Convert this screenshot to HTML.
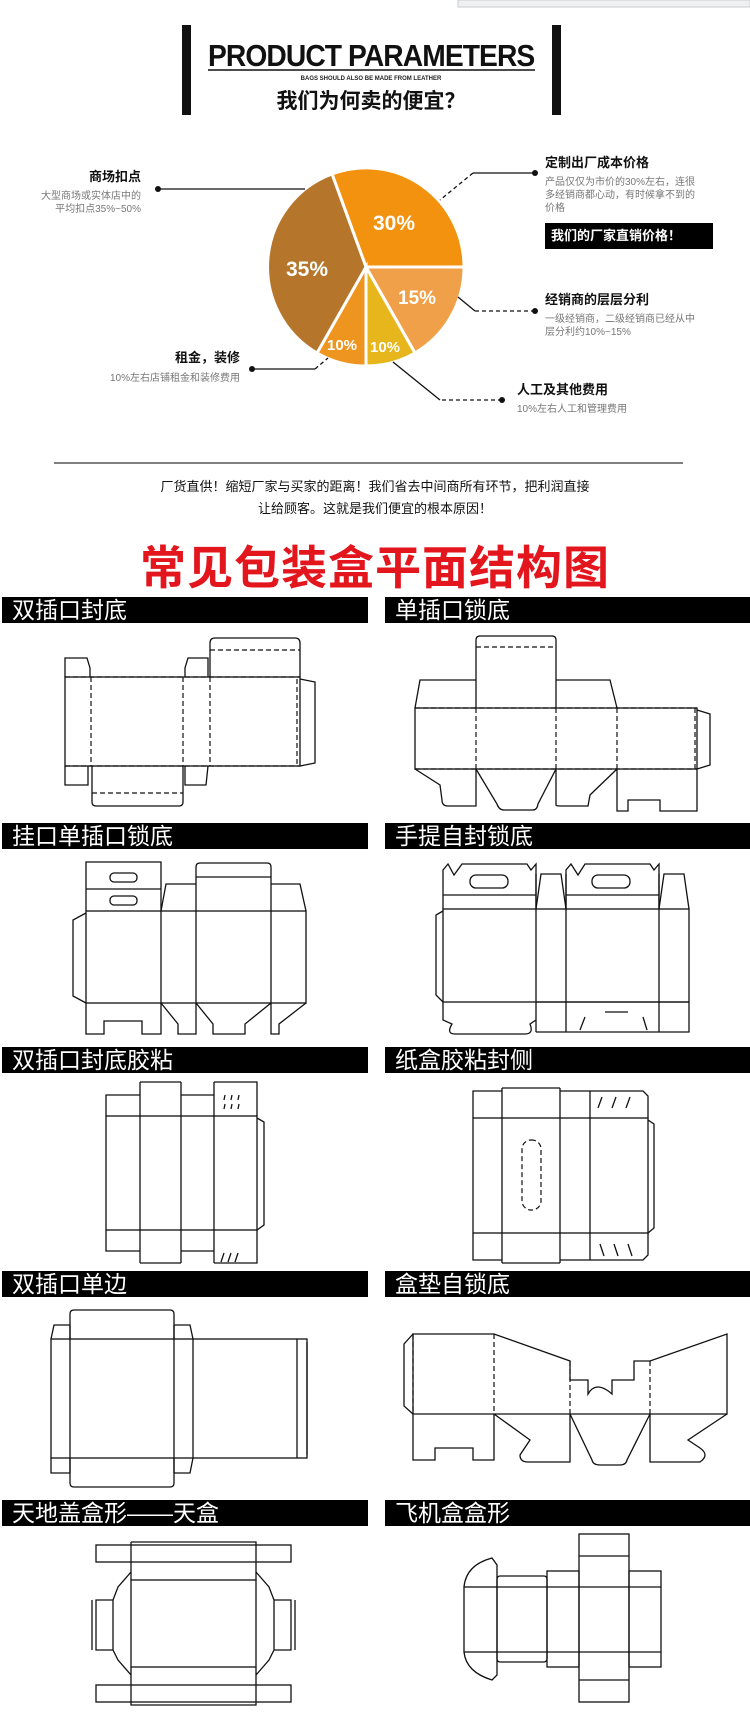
<!DOCTYPE html>
<html><head><meta charset="utf-8"><style>
*{margin:0;padding:0;box-sizing:border-box}
body{width:750px;height:1713px;background:#fff;position:relative;overflow:hidden;font-family:"Liberation Sans","Noto Sans CJK SC",sans-serif}
.a{position:absolute;white-space:nowrap}
.bar{position:absolute;background:#000;color:#fff;height:26px;font-size:23px;line-height:26px;padding-left:10px}
.t{font-size:13px;font-weight:bold;color:#111}
.s{font-size:10px;color:#777;line-height:13px}
svg{position:absolute;left:0;top:0}
.l{fill:none;stroke:#111;stroke-width:1.3}
.d{fill:none;stroke:#111;stroke-width:1.2;stroke-dasharray:5 3}
</style></head><body>
<svg width="750" height="1713" viewBox="0 0 750 1713">
<rect x="458" y="0" width="292" height="7" fill="#eef0f2" stroke="#ccc"/>
<rect x="182" y="25" width="9" height="90" fill="#111"/>
<rect x="552" y="25" width="9" height="90" fill="#111"/>
<line x1="208" y1="70" x2="535" y2="70" stroke="#111" stroke-width="1.5"/>
<g transform="translate(366,267)" stroke="#fff" stroke-width="3">
<path d="M0 0 L-34 -93 A98 99 0 0 1 98 0 Z" fill="#f2920e"/>
<path d="M0 0 L98 0 A98 99 0 0 1 49 86 Z" fill="#f0a048"/>
<path d="M0 0 L49 86 A98 99 0 0 1 0 99 Z" fill="#e6b61c"/>
<path d="M0 0 L0 99 A98 99 0 0 1 -49 86 Z" fill="#ee9520"/>
<path d="M0 0 L-49 86 A98 99 0 0 1 -34 -93 Z" fill="#b5762c"/>
</g>
<g fill="#fff" font-weight="bold" font-family="Liberation Sans,sans-serif">
<text x="373" y="230" font-size="21">30%</text>
<text x="286" y="276" font-size="21">35%</text>
<text x="398" y="304" font-size="19">15%</text>
<text x="327" y="350" font-size="15">10%</text>
<text x="370" y="352" font-size="15">10%</text>
</g>
<g stroke="#111" stroke-width="1.3" fill="none">
<path d="M158 189 H305"/>
<path d="M535 173 H473"/><path d="M473 173 L440 200" stroke-dasharray="4 3"/>
<path d="M535 311 H475" stroke-dasharray="4 3"/><path d="M475 311 L458 297"/>
<path d="M252 369 H315"/><path d="M315 369 L328 358" stroke-dasharray="4 3"/>
<path d="M502 400 H440" stroke-dasharray="4 3"/><path d="M440 400 L393 362"/>
</g>
<g fill="#111"><circle cx="158" cy="189" r="3"/><circle cx="535" cy="173" r="3"/><circle cx="535" cy="311" r="3"/><circle cx="252" cy="369" r="3"/><circle cx="502" cy="400" r="3"/></g>
<line x1="54" y1="463" x2="683" y2="463" stroke="#555" stroke-width="1.5"/>

<rect class="l" x="65" y="677" width="235" height="89"/>
<path class="d" d="M91 677V766M183 677V766M210 677V766M65 677H300M65 766H300M297 679V765"/>
<path class="l" d="M210 677V643Q210 638 215 638H295Q300 638 300 643V677"/><path class="d" d="M210 650H300"/>
<path class="l" d="M65 677V658H87L90 668V677M65 766V785H88V766"/>
<path class="l" d="M185 677V668L188 658H208V677M185 766V785H206L208 766"/>
<path class="l" d="M92 766V802Q92 806 96 806H179Q183 806 183 802V766"/><path class="d" d="M92 793H183"/>
<path class="l" d="M300 679L315 682V763L300 766"/>
<rect class="l" x="415" y="708" width="282" height="61"/>
<path class="d" d="M476 708V769M556 708V769M617 708V769M695 708V769M415 708H697M415 769H697"/>
<path class="l" d="M476 708V640Q476 636 480 636H552Q556 636 556 640V708"/><path class="d" d="M476 647H556"/>
<path class="l" d="M415 708L420 680H476M556 680H610L617 708"/>
<path class="l" d="M697 710L710 714V765L697 769"/>
<path class="l" d="M415 769L440 785 442 800Q442 806 448 806H476V769M476 769L497 804Q499 810 504 810H533Q537 810 538 804L556 769M556 769V805Q556 806 560 806H588L590 795 617 769M617 769V811H628V800H660V811H697V769"/>
<rect class="l" x="86" y="911" width="220" height="92"/>
<path class="l" d="M161 911V1003M196 911V1003M271 911V1003"/>
<path class="l" d="M86 911V862H161V911M86 889H161"/>
<rect class="l" x="110" y="873" width="27" height="9" rx="4"/><rect class="l" x="110" y="896" width="27" height="9" rx="4"/>
<path class="l" d="M196 911V867Q196 863 200 863H267Q271 863 271 867V911M196 877H271"/>
<path class="l" d="M161 911L166 884H196M271 884H300L306 911"/>
<path class="l" d="M86 913L73 920V996L86 1003"/>
<path class="l" d="M86 1003V1034H104V1021H142V1034H161V1003M161 1003L178 1024V1034H196V1003M196 1003L213 1024V1034H245V1024L271 1003M271 1003V1034H279V1024L306 1003"/>
<rect class="l" x="443" y="909" width="246" height="93"/>
<path class="l" d="M536 874V1032M566 874V1032M659 874V1032M536 1002H689M536 1032H689V1002"/>
<path class="l" d="M443 909V870L448 864 454 875 462 864H527L531 870 536 864V909M443 895H536"/>
<path class="l" d="M566 909V870L571 864 578 875 585 864H650L654 870 659 864V909M566 895H659"/>
<rect class="l" x="470" y="875" width="38" height="13" rx="6"/><rect class="l" x="592" y="875" width="38" height="13" rx="6"/>
<path class="l" d="M536 909L541 874H561L566 909M659 909L664 874H684L689 909"/>
<path class="l" d="M443 911L436 915V995L443 1002M443 1002V1020L452 1024Q446 1034 455 1034H525Q534 1034 530 1024L536 1020"/>
<path class="l" d="M585 1017L580 1030M605 1012H628M643 1017L647 1030"/>
<rect class="l" x="106" y="1116" width="151" height="114"/>
<path class="l" d="M140 1082V1263M181 1082V1263M214 1082V1263"/>
<path class="l" d="M106 1116V1095H140M140 1082H181M181 1095H214M214 1082H257V1116M106 1230V1251H140M140 1263H181M181 1251H214M214 1263H257V1230"/>
<path class="l" d="M257 1118L264 1122V1225L257 1230"/>
<path class="l" d="M225 1095L224 1100M232 1095L231 1100M239 1095L238 1100M225 1104L224 1109M232 1104L231 1109M239 1104L238 1109M224 1253L221 1262M231 1253L228 1262M238 1253L235 1262"/>
<rect class="l" x="473" y="1118" width="175" height="115"/>
<path class="l" d="M502 1088V1263M560 1088V1263M590 1091V1260"/>
<path class="l" d="M473 1118V1091H502M502 1088H560M560 1091H590M590 1091H643L648 1096V1118M473 1233V1260H502M502 1263H560M560 1260H590M590 1260H643L648 1255V1233"/>
<path class="l" d="M648 1120L654 1124V1228L648 1233"/>
<rect class="d" x="522" y="1140" width="19" height="70" rx="9"/>
<path class="l" d="M598 1108L602 1097M612 1108L616 1097M626 1108L630 1097M600 1244L604 1256M614 1244L618 1256M628 1244L632 1256"/>
<rect class="l" x="51" y="1339" width="256" height="119"/>
<path class="l" d="M70 1325V1473M174 1325V1473M193 1339V1458M297 1339V1458"/>
<path class="l" d="M70 1339V1314Q70 1310 74 1310H170Q174 1310 174 1314V1339M51 1339L54 1325H70M174 1325H190L193 1339"/>
<path class="l" d="M70 1458V1483Q70 1487 74 1487H170Q174 1487 174 1483V1458M51 1458V1473H70M174 1473H190L193 1458"/>
<path class="l" d="M307 1342V1455"/>
<path class="l" d="M413 1334H494L570 1361V1380H588V1394Q596 1380 612 1394V1380H634V1361H650L727 1334V1414H413Z"/>
<path class="l" d="M413 1334L404 1344V1406L413 1414"/>
<path class="d" d="M413 1334V1414M494 1334V1414M570 1361V1414M650 1361V1414"/>
<path class="l" d="M413 1414V1460H435V1448H473V1460H494V1414M494 1414L530 1440 520 1455Q520 1462 528 1462H570V1414M570 1414L592 1460Q593 1465 600 1465H620Q626 1465 627 1460L650 1414M650 1414V1462H700Q710 1455 700 1448L688 1440 727 1414"/>
<rect class="l" x="131" y="1580" width="125" height="87"/>
<path class="l" d="M131 1542H256V1580M131 1542V1580M131 1667V1705H256V1667"/>
<rect class="l" x="96" y="1545" width="195" height="17"/><rect class="l" x="96" y="1685" width="195" height="17"/>
<path class="l" d="M131 1572L118 1587 113 1600V1650L118 1660 131 1675M256 1572L269 1587 274 1600V1650L269 1660 256 1675"/>
<path class="l" d="M113 1600H96V1650H113M274 1600H291V1650H274M92 1600V1650M295 1600V1650"/>
<rect class="l" x="579" y="1534" width="50" height="168"/>
<path class="l" d="M579 1587H629M579 1652H629M579 1556H629M579 1680H629"/>
<rect class="l" x="464" y="1587" width="33" height="65"/>
<path class="l" d="M464 1587Q466 1565 492 1558L497 1565V1587M464 1652Q466 1672 492 1680L497 1675V1652"/>
<rect class="l" x="497" y="1576" width="50" height="86" rx="3"/>
<rect class="l" x="547" y="1571" width="32" height="96"/>
<path class="l" d="M547 1587H579M547 1652H579M497 1587H547M497 1652H547"/>
<rect class="l" x="629" y="1571" width="32" height="96"/>
<path class="l" d="M629 1587H661M629 1652H661"/>
</svg>

<div class="a" style="left:208px;top:38px;font-size:31px;font-weight:bold;letter-spacing:-1px;transform:scaleX(0.91);transform-origin:left;color:#111">PRODUCT PARAMETERS</div>
<div class="a" style="left:0;width:742px;text-align:center;top:76px;font-size:6px;font-weight:bold;color:#222">BAGS SHOULD ALSO BE MADE FROM LEATHER</div>
<div class="a" style="left:0;width:742px;text-align:center;top:85px;font-size:21px;font-weight:bold;color:#111">我们为何卖的便宜？</div>

<div class="a t" style="right:609px;top:166px;text-align:right">商场扣点</div>
<div class="a s" style="right:609px;top:190px;text-align:right">大型商场或实体店中的<br>平均扣点35%~50%</div>
<div class="a t" style="left:545px;top:152px">定制出厂成本价格</div>
<div class="a s" style="left:545px;top:176px">产品仅仅为市价的30%左右，连很<br>多经销商都心动，有时候拿不到的<br>价格</div>
<div class="a" style="left:545px;top:223px;width:168px;height:26px;background:#000;color:#fff;font-size:13px;font-weight:bold;line-height:26px;padding-left:6px">我们的厂家直销价格！</div>
<div class="a t" style="left:545px;top:289px">经销商的层层分利</div>
<div class="a s" style="left:545px;top:313px">一级经销商，二级经销商已经从中<br>层分利约10%~15%</div>
<div class="a t" style="right:510px;top:347px">租金，装修</div>
<div class="a s" style="right:510px;top:372px">10%左右店铺租金和装修费用</div>
<div class="a t" style="left:517px;top:379px">人工及其他费用</div>
<div class="a s" style="left:517px;top:403px">10%左右人工和管理费用</div>

<div class="a" style="left:0;width:750px;text-align:center;top:476px;font-size:13px;color:#111;line-height:22px">厂货直供！缩短厂家与买家的距离！我们省去中间商所有环节，把利润直接<br>让给顾客。这就是我们便宜的根本原因！</div>
<div class="a" style="left:0;width:750px;text-align:center;top:532px;font-size:46px;font-weight:bold;color:#e3161e;letter-spacing:1px">常见包装盒平面结构图</div>

<div class="bar" style="left:2px;top:597px;width:366px">双插口封底</div>
<div class="bar" style="left:385px;top:597px;width:365px">单插口锁底</div>
<div class="bar" style="left:2px;top:823px;width:366px">挂口单插口锁底</div>
<div class="bar" style="left:385px;top:823px;width:365px">手提自封锁底</div>
<div class="bar" style="left:2px;top:1047px;width:366px">双插口封底胶粘</div>
<div class="bar" style="left:385px;top:1047px;width:365px">纸盒胶粘封侧</div>
<div class="bar" style="left:2px;top:1271px;width:366px">双插口单边</div>
<div class="bar" style="left:385px;top:1271px;width:365px">盒垫自锁底</div>
<div class="bar" style="left:2px;top:1500px;width:366px">天地盖盒形——天盒</div>
<div class="bar" style="left:385px;top:1500px;width:365px">飞机盒盒形</div>
</body></html>
